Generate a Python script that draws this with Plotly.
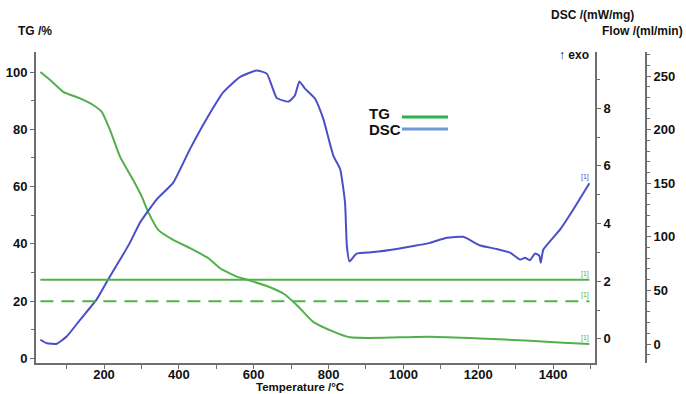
import plotly.graph_objects as go

# ---- data ----
temp_tg = [30, 56, 91, 136, 171, 194, 216, 243, 278, 301, 318, 345, 385, 430, 479,
           510, 555, 590, 635, 679, 715, 759, 813, 857, 902, 991, 1071, 1205, 1338, 1427, 1497]
tg = [100, 97.2, 93.1, 90.8, 88.5, 86.1, 79.8, 70.4, 62.3, 56.5, 51.2, 44.9, 41.4, 38.5, 35.0,
      31.5, 28.6, 27.2, 25.3, 22.7, 18.7, 12.8, 9.4, 7.4, 7.2, 7.4, 7.6, 7.0, 6.2, 5.5, 5.1]

temp_dsc = [30, 47, 74, 100, 136, 180, 211, 243, 269, 296, 318, 341, 385, 430, 474, 519, 563,
            608, 635, 648, 662, 693, 710, 722, 737, 764, 786, 813, 831, 844, 849, 856, 875, 920,
            982, 1027, 1071, 1116, 1160, 1205, 1249, 1285, 1312, 1325, 1338, 1352, 1363, 1367,
            1374, 1419, 1454, 1497]
dsc = [-0.03, -0.15, -0.17, 0.08, 0.66, 1.36, 2.06, 2.75, 3.33, 4.03, 4.44, 4.84, 5.42, 6.59,
       7.63, 8.56, 9.08, 9.31, 9.2, 8.79, 8.35, 8.23, 8.44, 8.93, 8.68, 8.33, 7.63, 6.35, 5.89,
       4.73, 3.22, 2.69, 2.96, 3.01, 3.12, 3.22, 3.33, 3.51, 3.54, 3.24, 3.12, 2.99, 2.75, 2.81,
       2.73, 2.96, 2.89, 2.64, 3.1, 3.8, 4.49, 5.4]

temp_flow = [30, 1497]
flow_purge = [60, 60]
flow_protective = [40, 40]

GREEN = "#52b04a"
BLUE = "#4a4fc8"
AXC = "#6e6e6e"
FONT = "Liberation Sans"

fig = go.Figure()
fig.add_trace(go.Scatter(x=temp_tg, y=tg, mode="lines", line=dict(color=GREEN, width=2, shape="spline", smoothing=0.45),
                         yaxis="y", showlegend=False))
fig.add_trace(go.Scatter(x=temp_dsc, y=dsc, mode="lines", line=dict(color=BLUE, width=2, shape="spline", smoothing=0.45),
                         yaxis="y2", showlegend=False))
fig.add_trace(go.Scatter(x=temp_flow, y=flow_purge, mode="lines", line=dict(color=GREEN, width=2),
                         yaxis="y3", showlegend=False))
fig.add_trace(go.Scatter(x=temp_flow, y=flow_protective, mode="lines", line=dict(color=GREEN, width=2, dash="13px,8px"),
                         yaxis="y3", showlegend=False))

tickfont = dict(family=FONT, size=13, color="#111", weight="bold")
common = dict(showgrid=False, zeroline=False, showline=True, linecolor=AXC, linewidth=2,
              ticks="outside", ticklen=4, tickcolor=AXC, tickwidth=1, tickfont=tickfont)

W, H = 686, 394
L, R, T, B = 36, 0, 52, 31
pw = W - L - R
ph = H - T - B
xdom_end = (595 - L) / pw
flow_pos = (646 - L) / pw

fig.update_layout(
    width=W, height=H, margin=dict(l=L, r=R, t=T, b=B),
    paper_bgcolor="white", plot_bgcolor="white",
    xaxis=dict(domain=[0, xdom_end], range=[18.3, 1512], dtick=200, tick0=0, ticklabelstandoff=-6,
               minor=dict(dtick=100, ticklen=4, tickcolor=AXC, ticks="outside"), **common),
    yaxis=dict(range=[-1.57, 107], dtick=20, tick0=0,
               minor=dict(dtick=10, ticklen=3, tickcolor=AXC, ticks="outside"), **common),
    yaxis2=dict(range=[-0.836, 9.95], dtick=2, tick0=0, overlaying="y", side="right", anchor="x",
                minor=dict(dtick=1, ticklen=3, tickcolor=AXC, ticks="outside"), **common),
    yaxis3=dict(range=[-17.7, 272.4], dtick=50, tick0=0, overlaying="y", side="right", anchor="free",
                position=flow_pos,
                minor=dict(dtick=10, ticklen=3, tickcolor=AXC, ticks="outside"), **common),
)

def px(xp):
    return (xp - L) / pw

def py(yp):
    return (H - B - yp) / ph

titlefont = dict(family=FONT, size=12, color="#111", weight="bold")
anns = [
    dict(text="TG /%", x=px(35), y=py(31), font=titlefont),
    dict(text="DSC /(mW/mg)", x=px(592), y=py(15), font=titlefont),
    dict(text="Flow /(ml/min)", x=px(685), y=py(31), xanchor="right", font=titlefont),
    dict(text="↑ exo", x=px(574), y=py(55), font=titlefont),
    dict(text="Temperature /°C", x=px(300), y=py(387), font=dict(family=FONT, size=11.5, color="#111", weight="bold")),
    dict(text="TG", x=px(367), y=py(113), xanchor="left", font=dict(family=FONT, size=15, color="#111", weight="bold")),
    dict(text="DSC", x=px(367), y=py(129), xanchor="left", font=dict(family=FONT, size=15, color="#111", weight="bold")),
]
for a in anns:
    a.setdefault("xanchor", "center")
    a.update(xref="paper", yref="paper", showarrow=False, yanchor="middle")
    fig.add_annotation(**a)

# "[1]" segment markers at curve ends
marks = [("y2", dsc[-1], BLUE), ("y3", flow_purge[-1], GREEN), ("y3", flow_protective[-1], GREEN), ("y", tg[-1], GREEN)]
for yr, yv, c in marks:
    fig.add_annotation(text="[1]", x=1485, y=yv, xref="x", yref=yr, showarrow=False,
                       yshift=6, font=dict(family=FONT, size=7, color=c))

# legend lines
fig.add_shape(type="line", xref="paper", yref="paper", x0=px(402), x1=px(448), y0=py(117), y1=py(117),
              line=dict(color="#2ab34a", width=3))
fig.add_shape(type="line", xref="paper", yref="paper", x0=px(402), x1=px(448), y0=py(129), y1=py(129),
              line=dict(color="#6f99d6", width=3))

fig.write_html("out.html")
